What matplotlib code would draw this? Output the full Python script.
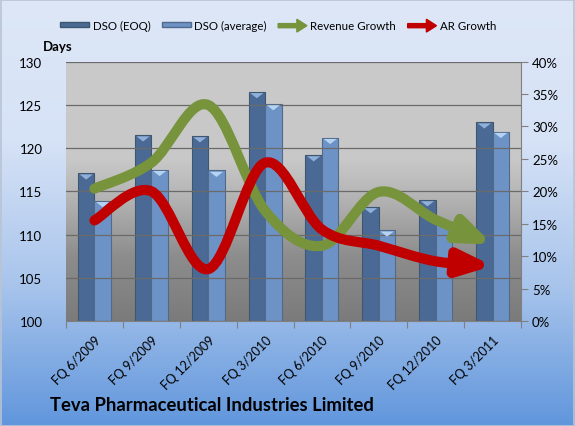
import matplotlib
matplotlib.use('Agg')
import matplotlib.pyplot as plt
import numpy as np
from matplotlib.path import Path
from matplotlib.patches import FancyArrowPatch, FancyArrow, Rectangle
from matplotlib.legend_handler import HandlerPatch
from matplotlib.colors import LinearSegmentedColormap
from matplotlib.ticker import FuncFormatter, FixedLocator

plt.rcParams['font.family'] = ['Lato', 'DejaVu Sans']

# Data
quarters = ['FQ 6/2009', 'FQ 9/2009', 'FQ 12/2009', 'FQ 3/2010',
            'FQ 6/2010', 'FQ 9/2010', 'FQ 12/2010', 'FQ 3/2011']
dso_eoq = [117.1, 121.5, 121.4, 126.5, 119.2, 113.2, 114.0, 123.0]
dso_avg = [113.9, 117.5, 117.4, 125.1, 121.2, 110.5, 111.4, 121.9]
revenue_growth = [20.4, 24.4, 33.3, 17.0, 11.6, 19.9, 15.6, 11.8]
ar_growth = [15.5, 20.0, 8.0, 24.4, 14.1, 11.6, 9.2, 8.5]

eoq_color = '#4a6a95'
avg_color = '#6d93c6'
green = '#77933c'
red = '#c00000'


def smooth_path(xs, ys):
    """Excel-like smoothed line as cubic Bezier path through the points."""
    pts = np.column_stack([xs, ys]).astype(float)
    n = len(pts)
    verts = [pts[0]]
    codes = [Path.MOVETO]
    for i in range(n - 1):
        p_prev = pts[i - 1] if i > 0 else pts[i]
        p_next2 = pts[i + 2] if i + 2 < n else pts[i + 1]
        c1 = pts[i] + (pts[i + 1] - p_prev) / 6.0
        c2 = pts[i + 1] - (p_next2 - pts[i]) / 6.0
        verts += [c1, c2, pts[i + 1]]
        codes += [Path.CURVE4] * 3
    return Path(np.array(verts), codes)


def make_arrow(legend, orig_handle, xdescent, ydescent, width, height, fontsize):
    return FancyArrow(0, height / 2, width, 0, width=height * 0.7,
                      head_width=height * 2.2, head_length=width * 0.35,
                      length_includes_head=True,
                      color=orig_handle.get_facecolor())


fig = plt.figure(figsize=(5.75, 4.27), dpi=100)

# figure background gradient
bg = fig.add_axes([0, 0, 1, 1], zorder=-10)
bg_cmap = LinearSegmentedColormap.from_list(
    'bg', ['#dde7f7', '#d6e2f6', '#a9c5ec', '#6196dc'])
bg.imshow(np.linspace(0, 1, 256).reshape(-1, 1), aspect='auto', cmap=bg_cmap,
          extent=[0, 1, 0, 1], transform=bg.transAxes)
bg.add_patch(Rectangle((0.001, 0.001), 0.997, 0.996, transform=bg.transAxes,
                       fill=False, edgecolor='#b8c4d4', lw=1.2))
bg.set_axis_off()

ax = fig.add_axes([0.1148, 0.2459, 0.7913, 0.6077])
ax.set_facecolor('none')

# plot area gradient
pa_cmap = LinearSegmentedColormap.from_list(
    'pa', [(0, '#7b7b7b'), (0.25, '#8d8d8d'), (0.45, '#b0b0b0'),
           (0.62, '#c8c8c8'), (1, '#cacaca')])
ax.imshow(np.linspace(0, 1, 256).reshape(-1, 1), aspect='auto', cmap=pa_cmap,
          origin='lower', extent=[0, 1, 0, 1], transform=ax.transAxes,
          zorder=0)

x = np.arange(len(quarters))
w = 0.29
ax.bar(x - w / 2, np.array(dso_eoq) - 100, w, bottom=100, color=eoq_color,
       edgecolor='#3f5670', linewidth=0.8, zorder=2)
ax.bar(x + w / 2, np.array(dso_avg) - 100, w, bottom=100, color=avg_color,
       edgecolor='#52698a', linewidth=0.8, zorder=2)
# light top caps on the bars
for xi, v in zip(x - w / 2, dso_eoq):
    ax.fill([xi - w * 0.4, xi + w * 0.4, xi], [v - 0.15, v - 0.15, v - 0.75],
            color='#8fb0d8', zorder=3, lw=0)
for xi, v in zip(x + w / 2, dso_avg):
    ax.fill([xi - w * 0.4, xi + w * 0.4, xi], [v - 0.15, v - 0.15, v - 0.75],
            color='#b5d3f2', zorder=3, lw=0)

ax.set_xlim(-0.5, len(quarters) - 0.5)
ax.set_ylim(100, 130)
ax.set_yticks(np.arange(100, 131, 5))
ax.yaxis.grid(True, color='#6a6a6a', lw=0.9, zorder=1)
ax.set_axisbelow(False)
ax.tick_params(axis='y', length=0, labelsize=9.5, pad=17)
ax.set_xticks(x)
ax.set_xticklabels(quarters, rotation=45, ha='right', rotation_mode='anchor',
                   fontsize=9)
ax.tick_params(axis='x', length=0, pad=9)
ax.xaxis.set_minor_locator(FixedLocator(np.arange(-0.5, len(quarters), 1)))
ax.tick_params(axis='x', which='minor', length=5, color='#808080', width=0.8)
for side in ['left', 'top', 'right']:
    ax.spines[side].set_visible(False)
ax.spines['bottom'].set_color('#808080')
ax.text(-0.018, 1.035, 'Days', transform=ax.transAxes, fontsize=9.5,
        fontweight='bold', ha='center', va='bottom')

ax2 = ax.twinx()
ax2.set_ylim(0, 40)
ax2.set_yticks(np.arange(0, 41, 5))
ax2.yaxis.set_major_formatter(FuncFormatter(lambda v, p: f'{v:.0f}%'))
ax2.tick_params(axis='y', length=5, color='#808080', labelsize=9.5, pad=3)
for side in ['left', 'top', 'bottom']:
    ax2.spines[side].set_visible(False)
ax2.spines['right'].set_color('#808080')

for vals, col in [(revenue_growth, green), (ar_growth, red)]:
    arr = FancyArrowPatch(path=smooth_path(x, vals),
                          arrowstyle='-|>,head_length=1.9,head_width=0.75',
                          mutation_scale=10, lw=7.3, color=col,
                          capstyle='round', joinstyle='round',
                          transform=ax2.transData, zorder=5)
    ax2.add_patch(arr)

handles = [Rectangle((0, 0), 1, 1, color=eoq_color, ec='#3f5670'),
           Rectangle((0, 0), 1, 1, color=avg_color, ec='#52698a'),
           Rectangle((0, 0), 1, 1, color=green),
           Rectangle((0, 0), 1, 1, color=red)]
labels = ['DSO (EOQ)', 'DSO (average)', 'Revenue Growth', 'AR Growth']
arrow_handler = HandlerPatch(patch_func=make_arrow)
fig.legend(handles, labels, loc='center', bbox_to_anchor=(0.484, 0.939),
           ncol=4, frameon=False, fontsize=8.3, handlelength=2.5,
           handleheight=0.4, columnspacing=1.0, handletextpad=0.3,
           handler_map={handles[2]: arrow_handler, handles[3]: arrow_handler})

fig.text(0.087, 0.038, 'Teva Pharmaceutical Industries Limited', fontsize=13.3,
         fontweight='bold', ha='left', va='baseline')

fig.savefig('out.png', dpi=100)
